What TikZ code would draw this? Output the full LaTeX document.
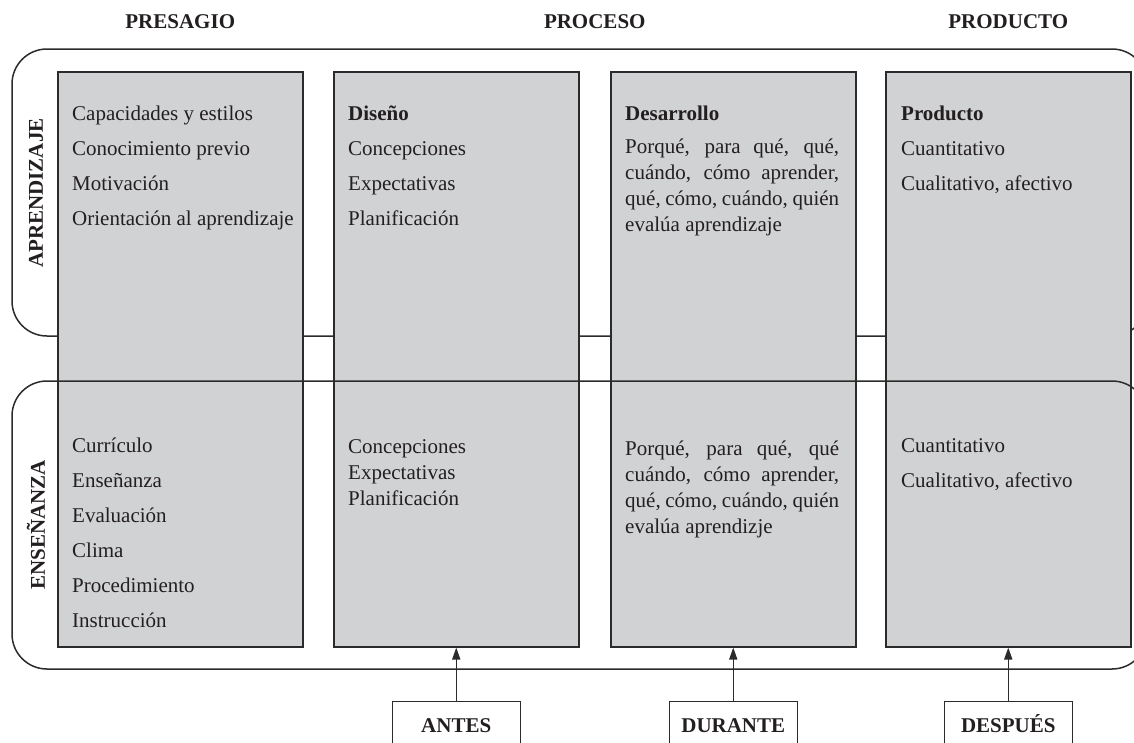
\documentclass[tikz,border=0pt]{standalone}
\usepackage{fontspec}
\setmainfont{Liberation Serif}
\usetikzlibrary{arrows.meta,calc,positioning}
\definecolor{BoxGray}{HTML}{D1D2D4}
\definecolor{LineGray}{HTML}{2B2B2B}
\definecolor{TextBlack}{HTML}{231F20}
\tikzset{
  frame/.style={draw=LineGray, line width=1.5pt, rounded corners=35pt},
  colbox/.style={draw=LineGray, fill=BoxGray, line width=1.5pt, anchor=north west,
    minimum width=245pt, minimum height=575pt, inner sep=0pt},
  item/.style={anchor=base west, inner sep=0pt, text=TextBlack,
    font=\fontsize{21}{24}\selectfont},
  itemhead/.style={item, font=\fontsize{21}{24}\selectfont\bfseries},
  phase/.style={anchor=base, inner sep=0pt, text=TextBlack,
    font=\fontsize{21}{24}\selectfont\bfseries},
  side/.style={rotate=90, inner sep=0pt, text=TextBlack,
    font=\fontsize{21}{24}\selectfont\bfseries},
  tagbox/.style={draw=LineGray, fill=white, line width=1.5pt, minimum width=128pt,
    minimum height=48pt, text height=15pt, text depth=0pt, text=TextBlack,
    font=\fontsize{21}{24}\selectfont\bfseries},
  uparrow/.style={draw=LineGray, line width=1.5pt, -{Triangle[length=12pt,width=8pt]}}
}

\begin{document}
\begin{tikzpicture}[x=1pt,y=-1pt]
   \useasboundingbox (0,0) rectangle (1134,742);
   \clip (0,0) rectangle (1134,742);

   \draw[frame] (12,49) rectangle (1147,336);
   \foreach \name/\x in {presagio/57,diseno/333,desarrollo/610,producto/885} {
    \node[colbox] (\name) at (\x,71) {};
   }
   \draw[frame] (12,381) rectangle (1147,669);

   \node[side] (apr) at (36,193) {APRENDIZAJE};
   \node[side] (ens) at (36,525) {ENSEÑANZA};

   \node[phase] (hpre) at ($(presagio.north)+(0,-43)$) {PRESAGIO};
   \node[phase] (hpro) at ($(diseno.north)!.5!(desarrollo.north)+(0,-43)$) {PROCESO};
   \node[phase] (hprod) at ($(producto.north)+(0,-43)$) {PRODUCTO};

   % presagio
   \foreach \txt [count=\i] in {Capacidades y estilos,Conocimiento previo,Motivación,Orientación al aprendizaje}
    \node[item] (pa\i) at ([shift={(15,14+35*\i)}]presagio.north west) {\txt};
   \foreach \txt [count=\i] in {Currículo,Enseñanza,Evaluación,Clima,Procedimiento,Instrucción}
    \node[item] (pe\i) at ([shift={(15,346+35*\i)}]presagio.north west) {\txt};

   % diseno
   \node[itemhead] (dis) at ([shift={(15,49)}]diseno.north west) {Diseño};
   \foreach \txt [count=\i] in {Concepciones,Expectativas,Planificación} {
    \node[item] (da\i) at ([shift={(15,49+35*\i)}]diseno.north west) {\txt};
    \node[item] (de\i) at ([shift={(15,356+26*\i)}]diseno.north west) {\txt};
   }

   % desarrollo
   \node[itemhead] (des) at ([shift={(15,49)}]desarrollo.north west) {Desarrollo};
   \foreach \txt [count=\i] in {{Porqué, para qué, qué,},{cuándo, cómo aprender,},{qué, cómo, cuándo, quién}}
    \node[item] (ra\i) at ([shift={(15,56+26*\i)}]desarrollo.north west) {\makebox[214pt][s]{\txt}};
   \node[item] (ra4) at ([shift={(15,160)}]desarrollo.north west) {evalúa aprendizaje};
   \foreach \txt [count=\i] in {{Porqué, para qué, qué},{cuándo, cómo aprender,},{qué, cómo, cuándo, quién}}
    \node[item] (re\i) at ([shift={(15,358+26*\i)}]desarrollo.north west) {\makebox[214pt][s]{\txt}};
   \node[item] (re4) at ([shift={(15,462)}]desarrollo.north west) {evalúa aprendizje};

   % producto
   \node[itemhead] (pro) at ([shift={(16,49)}]producto.north west) {Producto};
   \foreach \txt [count=\i] in {Cuantitativo,{Cualitativo, afectivo}} {
    \node[item] (oa\i) at ([shift={(16,49+35*\i)}]producto.north west) {\txt};
    \node[item] (oe\i) at ([shift={(16,346+35*\i)}]producto.north west) {\txt};
   }

   \node[tagbox, below=53pt of diseno] (antes) {ANTES};
   \node[tagbox, below=53pt of desarrollo] (durante) {DURANTE};
   \node[tagbox, below=53pt of producto] (despues) {DESPUÉS};
   \draw[uparrow] (antes) -- (diseno);
   \draw[uparrow] (durante) -- (desarrollo);
   \draw[uparrow] (despues) -- (producto);
  \end{tikzpicture}
\end{document}
